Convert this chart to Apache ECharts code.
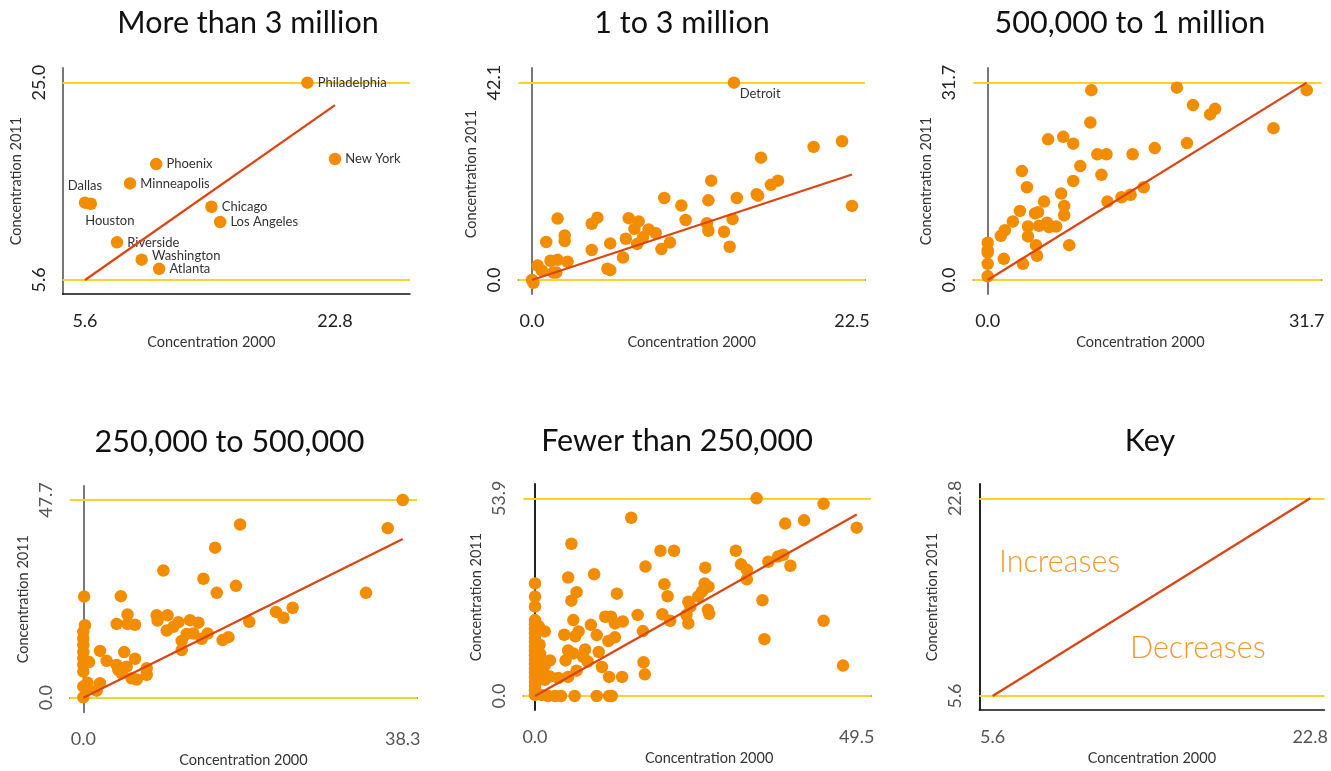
<!DOCTYPE html>
<html>
<head>
<meta charset="utf-8">
<script src="https://cdn.jsdelivr.net/npm/echarts@6/dist/echarts.min.js"></script>
<style>
  html, body { margin: 0; background: #fff; }
  #chart { width: 1331px; height: 771px; }
</style>
</head>
<body>
<div id="chart"></div>
<script>
// ---- data ----
var titles = ['More than 3 million', '1 to 3 million', '500,000 to 1 million',
              '250,000 to 500,000', 'Fewer than 250,000', 'Key'];

var xTicks = [[5.6, 22.8], [0, 22.5], [0, 31.7], [0, 38.3], [0, 49.5], [5.6, 22.8]];
var yTicks = [[5.6, 25.0], [0, 42.1], [0, 31.7], [0, 47.7], [0, 53.9], [5.6, 22.8]];

var bigNames = ['Philadelphia', 'New York', 'Phoenix', 'Minneapolis', 'Dallas', 'Houston',
                'Chicago', 'Los Angeles', 'Riverside', 'Washington', 'Atlanta'];
var bigMetros = [[20.9, 25.0], [22.8, 17.5], [10.5, 17.0], [8.7, 15.1], [5.6, 13.2], [6.0, 13.1],
                 [14.3, 12.8], [14.9, 11.3], [7.8, 9.3], [9.5, 7.6], [10.7, 6.7]];

// first point is Detroit
var midMetros = [[14.2, 42.1], [21.8, 29.6], [19.8, 28.4], [16.1, 26.1], [22.5, 15.8], [12.6, 21.2],
  [17.3, 21.2], [16.8, 20.3], [15.8, 18.3], [15.9, 18.0], [14.4, 17.5], [12.4, 17.0], [9.3, 17.5],
  [10.5, 15.9], [10.8, 12.8], [12.3, 12.1], [12.4, 10.5], [13.5, 10.3], [14.1, 13.0], [13.9, 7.1],
  [6.8, 13.2], [7.5, 12.5], [7.2, 10.9], [8.2, 10.8], [8.7, 10.0], [7.8, 9.1], [7.4, 7.7], [6.6, 8.8],
  [9.7, 8.0], [9.1, 6.6], [6.4, 4.8], [5.5, 7.8], [5.3, 2.4], [5.5, 2.1], [4.6, 13.3], [4.2, 12.0],
  [4.2, 6.4], [1.8, 13.1], [2.3, 9.5], [2.3, 8.3], [1.0, 8.1], [1.3, 4.1], [1.8, 4.3], [2.5, 3.9],
  [0.4, 3.1], [0.7, 2.0], [1.5, 1.6], [1.7, 1.6], [0.0, 0.0], [0.1, -0.6]];

var largeMetros = [[31.7, 30.5], [18.8, 30.9], [20.4, 28.1], [22.6, 27.5], [22.1, 26.6], [28.4, 24.4],
  [19.8, 22.0], [16.6, 21.2], [14.4, 20.2], [10.3, 30.5], [10.2, 25.3], [7.5, 23.0], [8.5, 21.9],
  [6.0, 22.6], [10.9, 20.2], [11.8, 20.2], [9.2, 18.3], [11.3, 16.9], [8.5, 15.9], [3.4, 17.5],
  [3.9, 14.9], [7.3, 13.9], [5.6, 12.6], [7.6, 11.9], [7.6, 10.4], [3.2, 11.1], [4.7, 10.7],
  [5.0, 10.9], [2.5, 9.4], [1.7, 8.0], [1.3, 7.1], [4.0, 8.6], [4.0, 7.0], [5.1, 8.7], [5.9, 9.2],
  [6.1, 8.5], [6.8, 8.6], [4.8, 5.6], [4.9, 3.9], [8.1, 5.6], [3.5, 2.6], [1.6, 3.4], [0.0, 6.0],
  [0.0, 4.8], [0.0, 4.4], [0.0, 2.6], [0.0, 0.6], [11.9, 12.6], [13.3, 13.3], [14.2, 13.7], [15.5, 14.9]];

var smallMetros = [[38.3, 47.7], [36.5, 40.9], [33.9, 25.3], [18.8, 41.8], [15.8, 36.2], [9.6, 30.7],
  [14.4, 28.7], [16.0, 25.3], [18.3, 27.0], [25.1, 21.7], [24.0, 19.3], [23.1, 20.7], [19.9, 18.3],
  [17.4, 14.6], [16.7, 13.9], [14.9, 15.5], [14.2, 14.2], [13.8, 18.1], [12.8, 18.7], [13.2, 15.5],
  [12.4, 15.4], [11.8, 13.7], [11.8, 11.5], [11.4, 18.2], [10.8, 17.1], [10.0, 16.2], [10.1, 19.9],
  [8.8, 19.9], [8.9, 18.6], [4.5, 24.5], [5.3, 20.1], [4.0, 17.8], [5.3, 17.8], [6.2, 17.6],
  [0.1, 24.4], [0.2, 17.5], [0.0, 15.9], [0.0, 14.3], [0.0, 12.7], [0.0, 11.0], [0.0, 9.5],
  [0.0, 7.9], [0.0, 6.3], [0.7, 8.6], [2.0, 11.3], [2.8, 8.9], [4.9, 11.0], [6.2, 9.4], [4.0, 7.9],
  [4.2, 6.7], [5.2, 7.5], [5.8, 4.7], [6.4, 4.4], [7.6, 7.1], [7.6, 5.5], [4.6, 5.9], [2.0, 3.5],
  [1.6, 1.7], [0.5, 3.6], [0.4, 2.3], [0.0, 2.7], [0.0, 0.1]];

var tinyMetros = [[34.1, 53.9], [44.4, 52.4], [49.5, 45.9], [41.4, 47.9], [38.5, 47.0], [14.8, 48.6],
  [5.6, 41.5], [19.3, 39.6], [21.4, 39.6], [30.9, 39.6], [31.7, 35.9], [32.6, 34.4], [32.6, 31.8],
  [35.9, 36.6], [37.4, 38.0], [38.2, 38.5], [39.3, 35.5], [26.2, 35.0], [17.0, 35.3], [5.1, 32.3],
  [9.1, 33.2], [19.9, 30.5], [20.4, 27.2], [26.1, 30.7], [26.7, 29.8], [25.7, 28.5], [25.1, 27.1],
  [23.6, 25.7], [23.9, 24.4], [23.3, 22.1], [23.6, 19.8], [26.6, 23.5], [26.8, 22.4], [35.0, 26.1],
  [44.4, 20.5], [35.3, 15.5], [47.4, 8.3], [19.6, 22.3], [20.8, 20.5], [15.8, 22.1], [12.6, 27.9],
  [6.4, 28.3], [5.6, 26.0], [16.6, 17.7], [13.5, 20.3], [10.8, 21.6], [11.7, 21.6], [12.3, 19.8],
  [12.3, 16.0], [11.3, 15.0], [8.6, 19.4], [9.5, 16.6], [6.7, 17.6], [5.9, 20.7], [6.2, 16.3],
  [4.5, 16.7], [16.7, 9.2], [16.9, 5.9], [13.4, 5.2], [11.4, 5.2], [10.3, 7.9], [9.8, 12.0],
  [7.7, 12.7], [7.4, 10.7], [8.1, 9.4], [6.4, 6.9], [5.1, 12.4], [4.7, 9.7], [5.9, 11.6],
  [5.1, 5.2], [3.6, 4.9], [2.3, 9.7], [1.5, 8.4], [1.5, 17.6], [6.1, 0.0], [9.5, 0.0], [11.4, 0.0],
  [11.8, 0.0], [2.0, 0.0], [3.1, 0.0], [4.0, 0.0], [1.0, 0.3], [0.8, 11.5], [1.3, 9.3], [0.8, 8.0],
  [1.3, 6.2], [1.5, 4.4], [2.3, 5.3], [0.6, 19.0], [0.7, 14.0],
  [0.0, 30.7], [0.0, 27.1], [0.0, 24.4], [0.0, 20.7], [0.0, 19.5], [0.0, 18.3], [0.0, 17.1],
  [0.0, 15.9], [0.0, 14.7], [0.0, 13.5], [0.0, 12.3], [0.0, 11.1], [0.0, 9.9], [0.0, 8.7],
  [0.0, 7.5], [0.0, 6.3], [0.0, 5.1], [0.0, 3.9], [0.0, 2.7], [0.0, 1.5], [0.0, 0.3]];

// ---- layout ----
var panels = [
  { grid: [62.7, 68, 347.3, 226], x: [4.066, 27.96], y: [4.223, 26.445], tx: 243, ty: 3, xpad: [0, 50, 0, 0], ypad: 0 },
  { grid: [518.3, 68, 346.7, 226], x: [-0.963, 23.414], y: [-2.987, 45.236], tx: 677, ty: 3, xpad: 0, ypad: [0, 0, 0, 14] },
  { grid: [973.3, 68, 348.4, 226], x: [-1.431, 33.19], y: [-2.249, 34.06], tx: 1125, ty: 3, xpad: [0, 14, 0, 0], ypad: 0 },
  { grid: [70, 486, 347, 226.3], x: [-1.595, 40.01], y: [-3.52, 51.08], tx: 224.5, ty: 422, xpad: 0, ypad: 0 },
  { grid: [523.3, 484, 347.7, 226], x: [-1.80, 51.7], y: [-3.817, 57.8], tx: 672, ty: 421, xpad: [0, 0, 0, 24], ypad: 0 },
  { grid: [979.3, 484, 347.4, 226], x: [4.879, 23.575], y: [4.382, 24.044], tx: 1145, ty: 421, xpad: 0, ypad: 0 }
];

var dotColor = '#f28c00';
var font = 'Lato, "Open Sans", sans-serif';

var cityLabel = {
  Dallas: { position: 'top', distance: 4 },
  Houston: { position: 'bottom', distance: 4, offset: [19, 0] },
  Washington: { position: 'right', distance: 4, offset: [0, -4] }
};

var bigData = bigMetros.map(function (v, i) {
  var lab = cityLabel[bigNames[i]] || { position: 'right', distance: 4 };
  return { name: bigNames[i], value: v, label: Object.assign({ show: true, formatter: '{b}' }, lab) };
});
var midData = midMetros.map(function (v, i) {
  if (i === 0) return { name: 'Detroit', value: v, label: { show: true, formatter: '{b}', position: [12, 11] } };
  return { value: v };
});
var pointSets = [bigData, midData, largeMetros, smallMetros, tinyMetros, []];

var grids = [], xAxes = [], yAxes = [], series = [], titleList = [];
panels.forEach(function (p, i) {
  var labelColor = i < 3 ? '#222' : '#555';
  grids.push({ left: p.grid[0], top: p.grid[1], width: p.grid[2], height: p.grid[3] });
  titleList.push({
    text: titles[i], left: p.tx, top: p.ty, textAlign: 'center',
    textStyle: { fontFamily: font, fontSize: 30.5, fontWeight: 'normal', color: '#111' }
  });
  xAxes.push({
    type: 'value', gridIndex: i, min: p.x[0], max: p.x[1],
    name: 'Concentration 2000', nameLocation: 'middle', nameGap: 41,
    nameTextStyle: { fontFamily: font, fontSize: 14.5, color: '#333', padding: p.xpad },
    axisLine: { show: true, lineStyle: { color: '#111', width: 1.5 } },
    axisTick: { show: false }, splitLine: { show: false },
    axisLabel: {
      customValues: xTicks[i], margin: 18, fontFamily: font, fontSize: 18, color: labelColor,
      formatter: function (v) { return v.toFixed(1); }
    }
  });
  yAxes.push({
    type: 'value', gridIndex: i, min: p.y[0], max: p.y[1],
    name: 'Concentration 2011', nameLocation: 'middle', nameGap: 39,
    nameTextStyle: { fontFamily: font, fontSize: 14.5, color: '#333', padding: p.ypad },
    axisLine: { show: true, lineStyle: { color: i < 4 ? '#777' : '#222', width: 2 } },
    axisTick: { show: false }, splitLine: { show: false },
    axisLabel: {
      customValues: yTicks[i], rotate: 90, margin: 15, fontFamily: font, fontSize: 18, color: labelColor,
      formatter: function (v) { return v.toFixed(1); }
    }
  });
  series.push({
    type: 'scatter', xAxisIndex: i, yAxisIndex: i, z: 2,
    symbolSize: 12.5, itemStyle: { color: dotColor, opacity: 1 },
    label: { fontFamily: font, fontSize: 13, color: '#333' },
    emphasis: { disabled: true },
    data: pointSets[i],
    markLine: {
      silent: true, symbol: 'none', z: 1, animation: false,
      label: { show: false },
      lineStyle: { color: '#f9d232', width: 2, type: 'solid' },
      emphasis: { disabled: true },
      data: [{ yAxis: yTicks[i][0] }, { yAxis: yTicks[i][1] }]
    }
  });
  series.push({
    type: 'line', xAxisIndex: i, yAxisIndex: i, z: 3,
    symbol: 'none', silent: true,
    lineStyle: { color: '#dd4410', width: 2.2 },
    data: [[xTicks[i][0], xTicks[i][0]], [xTicks[i][1], xTicks[i][1]]]
  });
});

var chart = echarts.init(document.getElementById('chart'));
chart.setOption({
  animation: false,
  backgroundColor: '#fff',
  textStyle: { fontFamily: font },
  title: titleList,
  grid: grids,
  xAxis: xAxes,
  yAxis: yAxes,
  series: series,
  graphic: [
    { type: 'text', left: 999, top: 547, style: { text: 'Increases', fontFamily: font, fontSize: 30.5, fontWeight: 300, fill: '#f39a2b' } },
    { type: 'text', left: 1130, top: 633, style: { text: 'Decreases', fontFamily: font, fontSize: 30.5, fontWeight: 300, fill: '#f39a2b' } }
  ]
});

window.onresize = chart.resize;
</script>
</body>
</html>
